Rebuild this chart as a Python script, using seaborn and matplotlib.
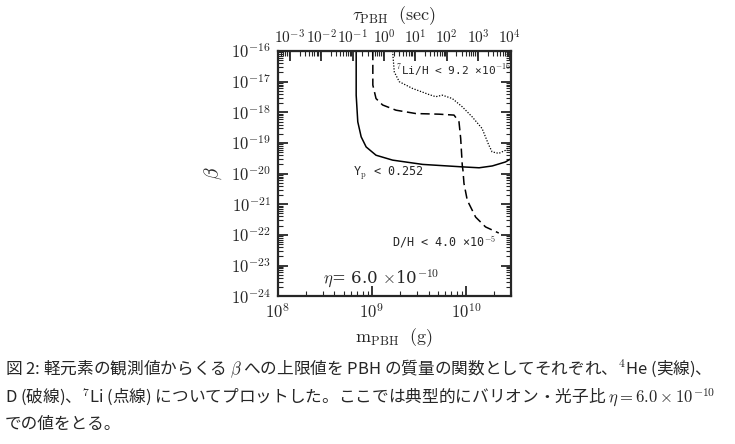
import numpy as np
import pandas as pd
import matplotlib
matplotlib.use('Agg')
import matplotlib.pyplot as plt
import seaborn as sns
from matplotlib.ticker import LogLocator, FixedLocator, FuncFormatter, NullFormatter

# curves (log10 of m_PBH [g] and of beta)
he_logm = [8.833, 8.833, 8.85, 8.886, 8.939, 9.044, 9.22, 9.54, 9.96, 10.14, 10.28, 10.42, 10.47]
he_logb = [-16.0, -17.44, -18.31, -18.80, -19.13, -19.40, -19.56, -19.70, -19.78, -19.81, -19.75, -19.62, -19.53]

d_logm = [9.01, 9.01, 9.044, 9.114, 9.256, 9.468, 9.714, 9.873, 9.926, 9.944, 9.961,
          9.968, 9.979, 10.014, 10.103, 10.208, 10.349]
d_logb = [-16.0, -17.11, -17.55, -17.76, -17.93, -18.04, -18.06, -18.09, -18.31, -18.85, -19.73,
          -19.89, -20.32, -20.87, -21.42, -21.74, -21.94]

li_logm = [9.22, 9.238, 9.291, 9.432, 9.608, 9.679, 9.749, 9.855, 9.961, 10.067, 10.172,
           10.243, 10.278, 10.349, 10.42, 10.466]
li_logb = [-16.0, -16.68, -17.0, -17.22, -17.42, -17.49, -17.44, -17.55, -17.82, -18.15, -18.53,
           -19.07, -19.29, -19.34, -19.24, -19.10]

tau_exps = [-3, -2, -1, 0, 1, 2, 3, 4]

caption = [
    r"図 2: 軽元素の観測値からくる $\beta$ への上限値を PBH の質量の関数としてそれぞれ、$^4$He (実線)、",
    r"D (破線)、$^7$Li (点線) についてプロットした。ここでは典型的にバリオン・光子比 $\eta=6.0\times10^{-10}$",
    r"での値をとる。",
]

sns.set_style('ticks')
plt.rcParams['mathtext.fontset'] = 'cm'
plt.rcParams['font.family'] = ['DejaVu Serif']
plt.rcParams['xtick.direction'] = 'in'
plt.rcParams['ytick.direction'] = 'in'

fig = plt.figure(figsize=(7.35, 4.44), dpi=100)
ax = fig.add_axes([0.378, 0.333, 0.317, 0.552])
ax.set_xscale('log')
ax.set_yscale('log')

sns.lineplot(x=10 ** np.array(he_logm), y=10 ** np.array(he_logb), ax=ax, color='k',
             lw=1.1, sort=False, estimator=None)
sns.lineplot(x=10 ** np.array(d_logm), y=10 ** np.array(d_logb), ax=ax, color='k',
             lw=1.1, sort=False, estimator=None, linestyle=(0, (6, 3)))
sns.lineplot(x=10 ** np.array(li_logm), y=10 ** np.array(li_logb), ax=ax, color='k',
             lw=0.9, sort=False, estimator=None, linestyle=(0, (1, 1.3)))

ax.set_xlim(1e8, 3e10)
ax.set_ylim(1e-24, 1e-16)

expfmt = FuncFormatter(lambda v, p: r'$10^{%d}$' % round(np.log10(v)))
ax.xaxis.set_major_locator(LogLocator(base=10, numticks=20))
ax.xaxis.set_minor_locator(LogLocator(base=10, subs=np.arange(2, 10), numticks=20))
ax.xaxis.set_major_formatter(expfmt)
ax.xaxis.set_minor_formatter(NullFormatter())
ax.yaxis.set_major_locator(LogLocator(base=10, numticks=20))
ax.yaxis.set_minor_locator(LogLocator(base=10, subs=np.arange(2, 10), numticks=20))
ax.yaxis.set_major_formatter(expfmt)
ax.yaxis.set_minor_formatter(NullFormatter())
ax.tick_params(which='major', length=7, width=1.3, labelsize=12, pad=5)
ax.tick_params(which='minor', length=3.5, width=0.8)
ax.tick_params(axis='y', which='both', left=True, right=True)
for s in ax.spines.values():
    s.set_linewidth(1.6)
    s.set_visible(True)


def m2tau(m):
    return 407.0 * (np.asarray(m) / 1e10) ** 3


def tau2m(t):
    return 1e10 * (np.abs(np.asarray(t)) / 407.0) ** (1.0 / 3.0)


sec = ax.secondary_xaxis('top', functions=(m2tau, tau2m))
sec.xaxis.set_major_locator(FixedLocator([10.0 ** e for e in tau_exps]))
sec.xaxis.set_minor_locator(LogLocator(base=10, subs=np.arange(2, 10), numticks=20))
sec.xaxis.set_major_formatter(expfmt)
sec.xaxis.set_minor_formatter(NullFormatter())
sec.tick_params(which='major', direction='in', length=7, width=1.3, labelsize=11, pad=3)
sec.tick_params(which='minor', direction='in', length=3.5, width=0.8)
sec.set_xlabel(r'$\tau_{\rm PBH}\ \ (\rm sec)$', fontsize=13, labelpad=6)

ax.set_xlabel(r'$\rm m_{PBH}\ \ (g)$', fontsize=13, labelpad=3)
ax.set_ylabel(r'$\beta$', fontsize=14, labelpad=5)

mono = 'DejaVu Sans Mono'
ax.text(10 ** 9.259, 10 ** -16.62, r'$^7$Li/H < 9.2 ×10$^{-16}$', family=mono,
        fontsize=8, va='center', ha='left', clip_on=True)
ax.text(10 ** 8.80, 10 ** -20.0, r'Y$_{\rm p}$ < 0.252', family=mono,
        fontsize=8.5, va='center', ha='left')
ax.text(10 ** 9.21, 10 ** -22.25, r'D/H < 4.0 ×10$^{-5}$', family=mono,
        fontsize=8.5, va='center', ha='left')
ax.text(10 ** 8.48, 10 ** -23.45, r'$\eta$= 6.0 $\times$10$^{-10}$',
        fontsize=12, va='center', ha='left')

cjk = ['Noto Sans CJK JP', 'DejaVu Sans']
for i, line in enumerate(caption):
    fig.text(0.007, 1 - (369 + 27.5 * i) / 444, line, family=cjk, fontsize=12.0,
             va='center', ha='left')

fig.savefig('out.png', dpi=100)
